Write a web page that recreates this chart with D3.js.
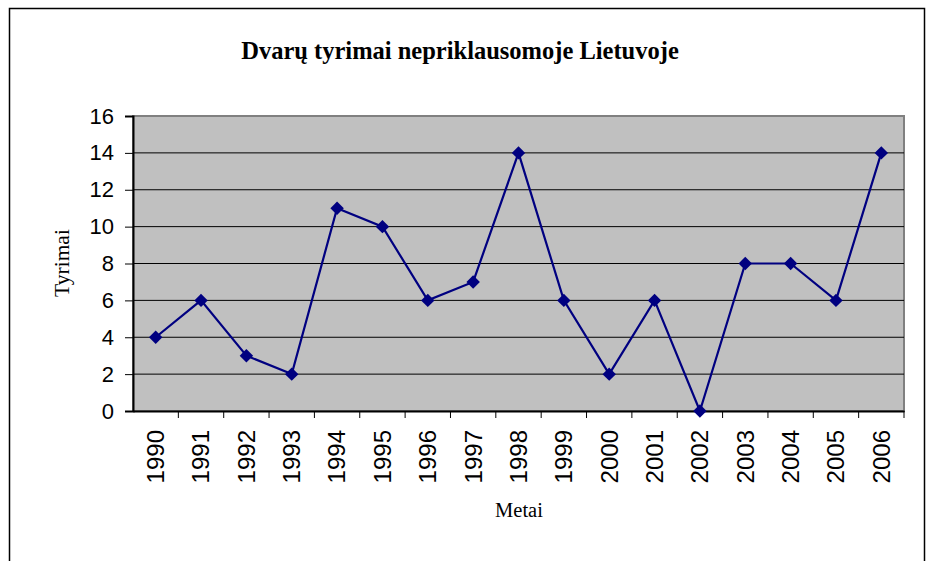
<!DOCTYPE html>
<html><head><meta charset="utf-8">
<script src="https://cdn.jsdelivr.net/npm/d3@7"></script>
<style>body{margin:0;background:#fff}svg{display:block}</style>
</head><body>
<script>
const years = ["1990","1991","1992","1993","1994","1995","1996","1997","1998","1999","2000","2001","2002","2003","2004","2005","2006"];
const tyrimai = [4,6,3,2,11,10,6,7,14,6,2,6,0,8,8,6,14];
const yTicks = [0,2,4,6,8,10,12,14,16];
const title = "Dvarų tyrimai nepriklausomoje Lietuvoje";
const xTitle = "Metai";
const yTitle = "Tyrimai";

const W = 928, H = 561;
const L = 133, R = 904, T = 116, B = 411;
const svg = d3.select("body").append("svg").attr("width", W).attr("height", H);

svg.append("rect").attr("x", 9.5).attr("y", 8.5).attr("width", 915).attr("height", 600)
  .attr("fill", "#fff").attr("stroke", "#000").attr("stroke-width", 1.5);

const x = d3.scaleBand().domain(years).range([L, R]);
const y = d3.scaleLinear().domain([0, 16]).range([B, T]);

svg.append("rect").attr("x", L).attr("y", T).attr("width", R - L).attr("height", B - T)
  .attr("fill", "#c0c0c0").attr("stroke", "#808080").attr("stroke-width", 2);

svg.append("g").selectAll("line").data(yTicks.filter(d => d > 0 && d < 16)).join("line")
  .attr("x1", L).attr("x2", R).attr("y1", d => y(d)).attr("y2", d => y(d))
  .attr("stroke", "#000").attr("stroke-width", 1);

const yAxis = svg.append("g").attr("transform", `translate(${L},0)`)
  .call(d3.axisLeft(y).tickValues(yTicks).tickSize(8).tickPadding(11));
yAxis.select(".domain").attr("stroke", "#000").attr("stroke-width", 2);
yAxis.selectAll(".tick line").attr("stroke", "#000");
yAxis.selectAll("text").attr("font-family", "Liberation Sans, Arial, sans-serif").attr("font-size", 22).attr("fill", "#000");

const xAxis = svg.append("g").attr("transform", `translate(0,${B})`)
  .call(d3.axisBottom(x).tickSize(0).tickPadding(0));
xAxis.select(".domain").attr("stroke", "#000").attr("stroke-width", 2);
xAxis.selectAll(".tick text")
  .attr("font-family", "Liberation Sans, Arial, sans-serif").attr("font-size", 24).attr("fill", "#000")
  .attr("transform", "rotate(-90)").attr("text-anchor", "end").attr("dy", "0.35em").attr("x", -19).attr("y", 0);
svg.append("g").selectAll("line").data(years.slice(1).concat(["end"])).join("line")
  .attr("x1", d => d === "end" ? R : x(d)).attr("x2", d => d === "end" ? R : x(d))
  .attr("y1", B).attr("y2", B + 7).attr("stroke", "#000").attr("stroke-width", 1);

const line = d3.line().x((d, i) => x(years[i]) + x.bandwidth() / 2).y(d => y(d));
svg.append("path").datum(tyrimai).attr("d", line)
  .attr("fill", "none").attr("stroke", "#000080").attr("stroke-width", 2.2);

svg.append("g").selectAll("path").data(tyrimai).join("path")
  .attr("d", d3.symbol().type(d3.symbolDiamond2).size(115))
  .attr("transform", (d, i) => `translate(${x(years[i]) + x.bandwidth() / 2},${y(d)})`)
  .attr("fill", "#000080");

svg.append("text").attr("x", 460).attr("y", 59).attr("text-anchor", "middle")
  .attr("font-family", "Liberation Serif, Times New Roman, serif").attr("font-weight", "bold").attr("font-size", 24.5)
  .text(title);
svg.append("text").attr("x", 519).attr("y", 517).attr("text-anchor", "middle")
  .attr("font-family", "Liberation Serif, Times New Roman, serif").attr("font-size", 20.5)
  .text(xTitle);
svg.append("text").attr("transform", "translate(69,263) rotate(-90)").attr("text-anchor", "middle")
  .attr("font-family", "Liberation Serif, Times New Roman, serif").attr("font-size", 21.5)
  .text(yTitle);
</script>
</body></html>
